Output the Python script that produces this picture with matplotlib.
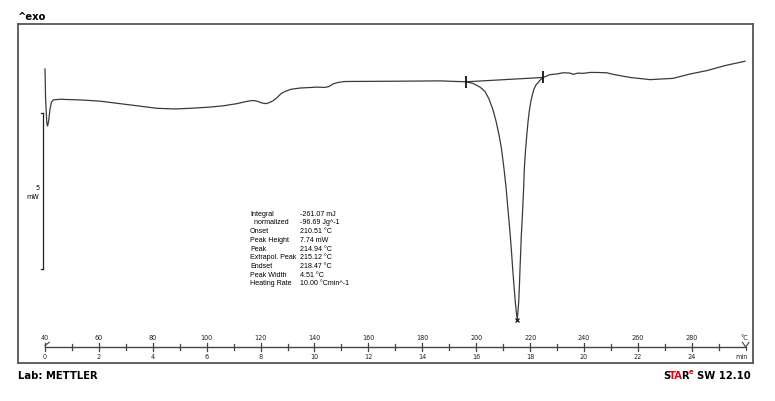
import numpy as np
import matplotlib
matplotlib.use('Agg')
import matplotlib.pyplot as plt

# DSC-Kurve, Temperatur in °C, Wärmestrom in mW
temp_c = [40.00, 40.22, 40.67, 40.96, 41.34, 41.86, 42.41, 43.08, 45.57, 52.99,
          60.41, 67.83, 75.25, 81.56, 88.24, 93.80, 101.22, 106.05, 111.24, 114.21,
          116.07, 117.55, 119.04, 120.52, 122.00, 123.12, 124.60, 126.08, 127.57, 129.05,
          131.28, 134.62, 140.93, 143.90, 145.38, 146.86, 148.72, 151.32, 171.73, 186.57,
          196.22, 198.81, 201.41, 203.27, 204.75, 206.23, 207.35, 208.46, 209.39, 210.32,
          211.06, 211.61, 212.17, 212.65, 213.10, 213.54, 214.03, 214.51, 214.88, 215.25,
          215.51, 215.77, 216.03, 216.25, 216.51, 216.73, 217.07, 217.37, 217.63, 217.85,
          218.26, 218.74, 219.22, 219.70, 220.22, 220.82, 221.45, 222.19, 223.04, 223.86,
          224.90, 227.38, 229.87, 232.21, 234.80, 235.92, 237.77, 239.63, 242.23, 244.71,
          248.42, 250.76, 257.07, 264.49, 273.02, 279.33, 285.64, 292.32, 299.74]
heat_flow = [0.32, -0.64, -1.41, -1.51, -1.35, -0.96, -0.74, -0.67, -0.65, -0.67,
             -0.71, -0.79, -0.87, -0.94, -0.96, -0.94, -0.90, -0.86, -0.79, -0.73,
             -0.70, -0.69, -0.72, -0.77, -0.79, -0.76, -0.70, -0.60, -0.47, -0.40,
             -0.33, -0.29, -0.26, -0.27, -0.24, -0.16, -0.11, -0.08, -0.07, -0.06,
             -0.09, -0.14, -0.26, -0.40, -0.64, -0.99, -1.35, -1.79, -2.24, -2.88,
             -3.46, -4.01, -4.55, -5.03, -5.54, -6.09, -6.63, -7.15, -7.47, -7.71,
             -7.44, -7.15, -6.63, -6.09, -5.54, -5.03, -4.49, -3.94, -3.43, -2.88,
             -2.34, -1.83, -1.38, -1.03, -0.74, -0.51, -0.32, -0.19, -0.11, -0.02,
             0.05, 0.14, 0.16, 0.20, 0.19, 0.15, 0.19, 0.18, 0.21, 0.21,
             0.20, 0.15, 0.05, -0.02, 0.02, 0.16, 0.27, 0.43, 0.57]

# Integrationsgrenzen und Peak
limit_temp = [196.22, 224.90]
limit_hf = [-0.09, 0.05]
peak_temp = 215.25
peak_hf = -7.71

# Skalenbalken 5 mW
scale_top = -1.09
scale_mw = 5

# Achsenbeschriftung
temp_ticks = [40, 60, 80, 100, 120, 140, 160, 180, 200, 220, 240, 260, 280]
time_ticks = [0, 2, 4, 6, 8, 10, 12, 14, 16, 18, 20, 22, 24]
heating_rate = 10.0

result_labels = ['Integral', '  normalized', 'Onset', 'Peak Height', 'Peak',
                 'Extrapol. Peak', 'Endset', 'Peak Width', 'Heating Rate']
result_values = ['-261.07 mJ', '-96.69 Jg^-1', '210.51 °C', '7.74 mW', '214.94 °C',
                 '215.12 °C', '218.47 °C', '4.51 °C', '10.00 °Cmin^-1']

W, H = 775, 402
fig = plt.figure(figsize=(W / 100, H / 100), dpi=100)
ax = fig.add_axes([18 / W, 1 - 364 / H, (753 - 18) / W, (364 - 25) / H])

px_per_c = 2.695
px_per_mw = 31.2
ax.set_xlim(40 - 27 / px_per_c, 40 + 708 / px_per_c)
ax.set_ylim((80 - 364) / px_per_mw, (80 - 25) / px_per_mw)
ax.set_xticks([])
ax.set_yticks([])
for s in ax.spines.values():
    s.set_color('#555555')
    s.set_linewidth(1.3)

line_col = '#3a3a3a'
ax.plot(temp_c, heat_flow, color=line_col, lw=0.9, solid_joinstyle='round')
ax.plot(limit_temp, limit_hf, color=line_col, lw=0.9)
ax.plot(limit_temp, limit_hf, ls='none', marker='|', ms=8, mew=1.3, color='#111111')
ax.plot([peak_temp], [peak_hf], ls='none', marker='x', ms=3.5, mew=0.9, color='#111111')

# Skalenbalken
sx = 40 - 1.7 / px_per_c
cap = 2.6 / px_per_c
ax.plot([sx, sx], [scale_top, scale_top - scale_mw], color='#222222', lw=0.9)
for yy in [scale_top, scale_top - scale_mw]:
    ax.plot([sx - cap, sx], [yy, yy], color='#222222', lw=0.9)
mid = scale_top - scale_mw / 2
ax.text(sx - 4 / px_per_c, mid + 4 / px_per_mw, str(scale_mw), fontsize=4.7, ha='right', va='center')
ax.text(sx - 4 / px_per_c, mid - 5 / px_per_mw, 'mW', fontsize=4.7, ha='right', va='center')

# Lineal unten (Temperatur / Zeit)
ry = (80 - 348) / px_per_mw
t_end = 300
rc = '#444444'
ax.plot([40, t_end], [ry, ry], color=rc, lw=1.0)
for t in range(40, t_end, 10):
    h = 4 / px_per_mw if t % 20 == 0 else 3 / px_per_mw
    ax.plot([t, t], [ry - h, ry + h], color=rc, lw=0.9)
ax.plot([40, 41.6], [ry + 0.05, ry + 0.15], color=rc, lw=0.8)
ax.plot([t_end - 1.2, t_end, t_end + 1.2], [ry + 0.15, ry, ry + 0.15], color=rc, lw=0.8)
ax.plot([t_end, t_end], [ry - 0.1, ry], color=rc, lw=0.8)
for t in temp_ticks:
    ax.text(t, (80 - 338) / px_per_mw, str(t), fontsize=4.7, ha='center', va='center', color='#222222')
for m in time_ticks:
    ax.text(40 + heating_rate * m, (80 - 357) / px_per_mw, str(m), fontsize=4.7, ha='center', va='center', color='#222222')
ax.text(t_end - 0.5, (80 - 338) / px_per_mw, '°C', fontsize=4.7, ha='center', va='center', color='#222222')
ax.text(t_end - 1.5, (80 - 357) / px_per_mw, 'min', fontsize=4.7, ha='center', va='center', color='#222222')

# Ergebnistabelle
for i, (lab, val) in enumerate(zip(result_labels, result_values)):
    yy = (80 - (214.3 + i * 8.7)) / px_per_mw
    ax.text(40 + (250 - 45) / px_per_c, yy, lab, fontsize=5.1, family='Liberation Sans', ha='left', va='center')
    ax.text(40 + (300 - 45) / px_per_c, yy, val, fontsize=5.1, family='Liberation Sans', ha='left', va='center')

# Kopf- und Fußzeile
fs = 7.2
yb = 1 - 376 / H
red = '#e2001a'
fig.text(18 / W, 1 - 17 / H, '^exo', fontsize=fs, fontweight='bold', ha='left', va='center')
fig.text(18 / W, yb, 'Lab: METTLER', fontsize=fs, fontweight='bold', ha='left', va='center')

fig.canvas.draw()
rend = fig.canvas.get_renderer()


def text_w(s, size=fs):
    t = fig.text(0, 0, s, fontsize=size, fontweight='bold')
    w = t.get_window_extent(rend).width
    t.remove()
    return w


# STARe SW 12.10, rechtsbündig, Teile einzeln gesetzt
pieces = [('S', 'black', fs, yb, -1.8), ('TA', red, fs, yb, -1.6), ('R', 'black', fs, yb, -0.5),
          ('e', red, 5, 1 - 372 / H, 4.0), ('SW 12.10', 'black', fs, yb, 0.0)]
widths = [text_w(p[0], p[2]) for p in pieces]
total = sum(widths) + sum(p[4] for p in pieces)
xp = 751 - total
for (txt, col, size, yy, gap), w in zip(pieces, widths):
    fig.text(xp / W, yy, txt, fontsize=size, fontweight='bold', ha='left', va='center', color=col)
    xp += w + gap

fig.savefig('out.png', dpi=100)
